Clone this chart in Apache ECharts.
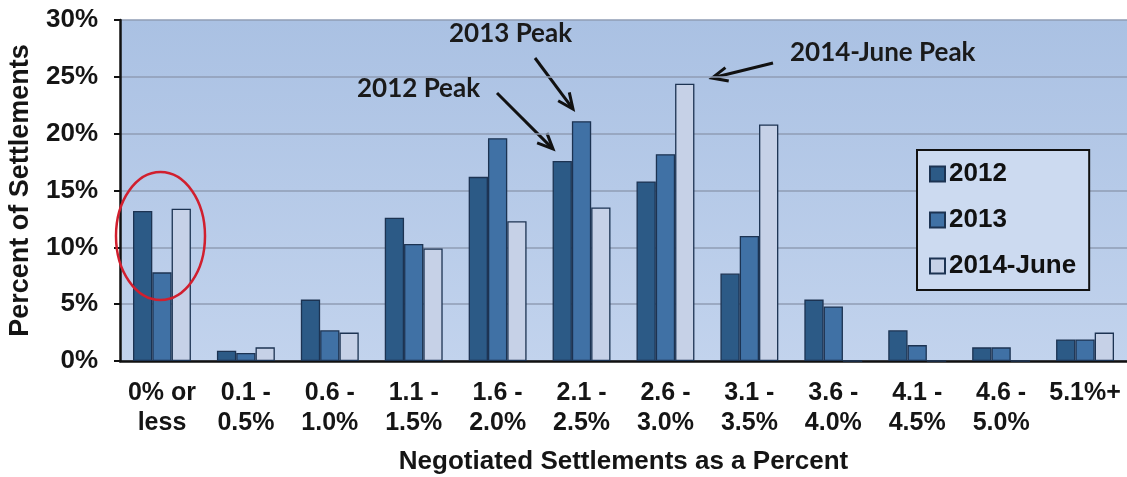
<!DOCTYPE html>
<html>
<head>
<meta charset="utf-8">
<style>
  html, body { margin: 0; padding: 0; background: #ffffff; }
  #chart { width: 1127px; height: 477px; }
</style>
<script src="https://cdn.jsdelivr.net/npm/echarts@6/dist/echarts.min.js"></script>
</head>
<body>
<div id="chart"></div>
<script>
// ---- Data ----
const categories = ['0% or\nless', '0.1 -\n0.5%', '0.6 -\n1.0%', '1.1 -\n1.5%', '1.6 -\n2.0%', '2.1 -\n2.5%',
                    '2.6 -\n3.0%', '3.1 -\n3.5%', '3.6 -\n4.0%', '4.1 -\n4.5%', '4.6 -\n5.0%', '5.1%+'];
const seriesNames = ['2012', '2013', '2014-June'];
const values2012 = [13.2, 0.9, 5.4, 12.6, 16.2, 17.6, 15.8, 7.7, 5.4, 2.7, 1.2, 1.9];
const values2013 = [7.8, 0.7, 2.7, 10.3, 19.6, 21.1, 18.2, 11.0, 4.8, 1.4, 1.2, 1.9];
const values2014 = [13.4, 1.2, 2.5, 9.9, 12.3, 13.5, 24.4, 20.8, 0, 0, 0, 2.5];
const yTicks = [0, 5, 10, 15, 20, 25, 30];
const annotations = ['2013 Peak', '2012 Peak', '2014-June Peak'];

const colors = ['#2c5a86', '#4071a5', '#c6d1e7'];
const barBorder = '#1c3352';
const sansFont = '"Liberation Sans", Arial, sans-serif';
const calibriLike = 'Lato, "Open Sans", sans-serif';

function arrow(x1, y1, x2, y2) {
  const a = Math.atan2(y2 - y1, x2 - x1), L = 17, w = 0.42;
  const p1 = [x2 - L * Math.cos(a - w), y2 - L * Math.sin(a - w)];
  const p2 = [x2 - L * Math.cos(a + w), y2 - L * Math.sin(a + w)];
  return {
    type: 'group',
    z: 100,
    children: [
      { type: 'line', shape: { x1: x1, y1: y1, x2: x2 - 2 * Math.cos(a), y2: y2 - 2 * Math.sin(a) },
        style: { stroke: '#111', lineWidth: 3 } },
      { type: 'polyline', shape: { points: [p1, [x2, y2], p2] },
        style: { stroke: '#111', lineWidth: 3, fill: null, lineJoin: 'miter' } }
    ]
  };
}

const chart = echarts.init(document.getElementById('chart'), null, { renderer: 'canvas' });

const mkSeries = (name, data, color) => ({
  name: name,
  type: 'bar',
  data: data,
  barGap: '0%',
  barCategoryGap: '31%',
  itemStyle: { color: color, borderColor: barBorder, borderWidth: 1.3 },
  emphasis: { disabled: true },
  animation: false
});

chart.setOption({
  animation: false,
  grid: {
    left: 120, right: 0, top: 20, bottom: 116,
    containLabel: false,
    outerBoundsMode: 'none',
    show: true,
    borderWidth: 0,
    backgroundColor: new echarts.graphic.LinearGradient(0, 0, 0, 1, [
      { offset: 0, color: '#aac1e3' },
      { offset: 1, color: '#c2d3ed' }
    ])
  },
  legend: {
    orient: 'vertical',
    left: 917, top: 150,
    padding: [11, 13, 11, 12],
    itemGap: 20,
    itemWidth: 15, itemHeight: 15,
    icon: 'rect',
    backgroundColor: '#ccdaf0',
    borderColor: '#111',
    borderWidth: 2,
    borderRadius: 0,
    textStyle: { fontFamily: sansFont, fontWeight: 'bold', fontSize: 26, color: '#111', padding: [0, 0, 0, -1] },
    data: seriesNames
  },
  xAxis: {
    type: 'category',
    data: categories,
    axisTick: { show: false },
    axisLine: { show: true, lineStyle: { color: '#111', width: 2.5 } },
    axisLabel: {
      interval: 0,
      margin: 17,
      fontFamily: sansFont, fontWeight: 'bold', fontSize: 25, lineHeight: 30, color: '#151515'
    },
    name: 'Negotiated Settlements as a Percent',
    nameLocation: 'middle',
    nameGap: 88,
    nameTextStyle: { fontFamily: sansFont, fontWeight: 'bold', fontSize: 26, color: '#151515' }
  },
  yAxis: {
    type: 'value',
    min: yTicks[0], max: yTicks[yTicks.length - 1], interval: yTicks[1] - yTicks[0],
    axisLine: { show: true, lineStyle: { color: '#111', width: 2.5 } },
    axisTick: { show: true, length: 6, lineStyle: { color: '#111', width: 2 } },
    axisLabel: {
      margin: 22,
      formatter: '{value}%',
      fontFamily: sansFont, fontWeight: 'bold', fontSize: 26, color: '#151515'
    },
    splitLine: { show: true, lineStyle: { color: '#8f9db4', width: 1.5 } },
    name: 'Percent of Settlements',
    nameLocation: 'middle',
    nameRotate: 90,
    nameGap: 86,
    nameTextStyle: { fontFamily: sansFont, fontWeight: 'bold', fontSize: 27, color: '#151515' }
  },
  series: [
    mkSeries(seriesNames[0], values2012, colors[0]),
    mkSeries(seriesNames[1], values2013, colors[1]),
    mkSeries(seriesNames[2], values2014, colors[2])
  ],
  graphic: [
    { type: 'ellipse', shape: { cx: 160.5, cy: 236, rx: 44.5, ry: 64 },
      style: { fill: null, stroke: '#d11f2e', lineWidth: 2.5 }, z: 100 },
    { type: 'text', x: 449, y: 34, z: 100,
      style: { text: annotations[0], font: 'bold 26px ' + calibriLike, fill: '#1a1a1a', textVerticalAlign: 'middle' } },
    { type: 'text', x: 357, y: 89, z: 100,
      style: { text: annotations[1], font: 'bold 26px ' + calibriLike, fill: '#1a1a1a', textVerticalAlign: 'middle' } },
    { type: 'text', x: 790, y: 53, z: 100,
      style: { text: annotations[2], font: 'bold 26px ' + calibriLike, fill: '#1a1a1a', textVerticalAlign: 'middle' } },
    arrow(535, 58, 573, 109),
    arrow(497, 93, 553, 149),
    arrow(773, 63, 712, 78)
  ]
});
</script>
</body>
</html>
